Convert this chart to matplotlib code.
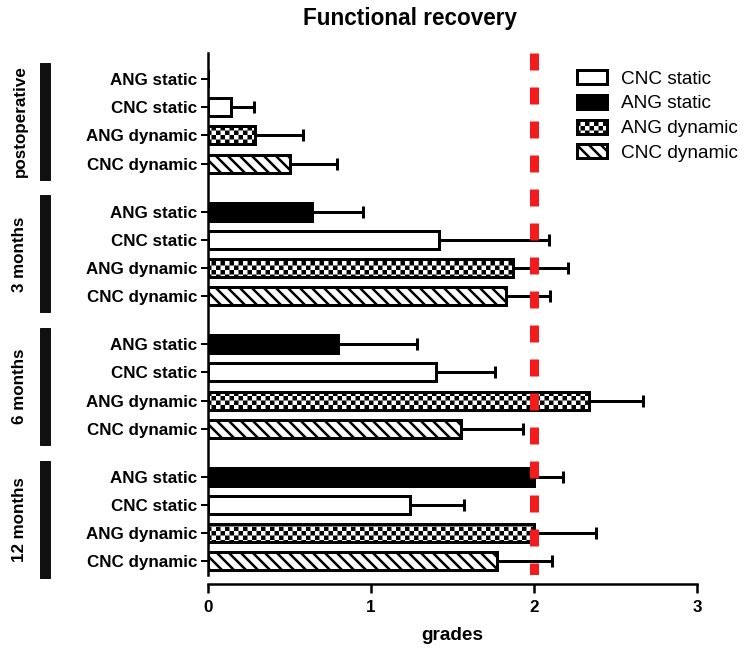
import matplotlib
matplotlib.use('Agg')
import matplotlib.pyplot as plt
import matplotlib.hatch as mhatch
import matplotlib.transforms as mtransforms
from matplotlib.patches import Rectangle
from matplotlib.path import Path
import numpy as np

# ---- data ----
groups = ['postoperative', '3 months', '6 months', '12 months']
rows = ['ANG static', 'CNC static', 'ANG dynamic', 'CNC dynamic']
legend_order = ['CNC static', 'ANG static', 'ANG dynamic', 'CNC dynamic']

ang_static = [0.00, 0.64, 0.80, 2.00]
ang_static_err = [0.00, 0.31, 0.48, 0.18]
cnc_static = [0.14, 1.42, 1.40, 1.24]
cnc_static_err = [0.14, 0.67, 0.36, 0.33]
ang_dynamic = [0.29, 1.87, 2.34, 2.00]
ang_dynamic_err = [0.29, 0.34, 0.33, 0.38]
cnc_dynamic = [0.50, 1.83, 1.55, 1.77]
cnc_dynamic_err = [0.29, 0.27, 0.38, 0.34]
threshold = 2
xticks = [0, 1, 2, 3]

plt.rcParams['font.family'] = ['Liberation Sans', 'DejaVu Sans']
plt.rcParams['font.weight'] = 'bold'
plt.rcParams['hatch.linewidth'] = 2.5
plt.rcParams['lines.scale_dashes'] = False


# checkerboard hatch (takes the place of the '*' pattern)
class Checker(mhatch.HatchPatternBase):
    def __init__(self, hatch, density):
        self.n = 16 * hatch.count('*')
        self.num_vertices = 5 * (self.n * self.n // 2)

    def set_vertices_and_codes(self, vertices, codes):
        c = 1.0 / self.n
        h = plt.rcParams['hatch.linewidth'] / 144.0  # stroke grows squares
        k = 0
        for i in range(self.n):
            for j in range(self.n):
                if (i + j) % 2:
                    continue
                x0, y0 = i * c + h, j * c + h
                x1, y1 = (i + 1) * c - h, (j + 1) * c - h
                vertices[k:k + 5] = [[x0, y0], [x1, y0], [x1, y1], [x0, y1], [x0, y0]]
                codes[k:k + 5] = [Path.MOVETO, Path.LINETO, Path.LINETO,
                                  Path.LINETO, Path.CLOSEPOLY]
                k += 5


mhatch._hatch_types = [t for t in mhatch._hatch_types if t is not mhatch.Stars] + [Checker]

series = {
    'ANG static': (ang_static, ang_static_err, 'black', None),
    'CNC static': (cnc_static, cnc_static_err, 'white', None),
    'ANG dynamic': (ang_dynamic, ang_dynamic_err, 'white', '*'),
    'CNC dynamic': (cnc_dynamic, cnc_dynamic_err, 'white', '\\\\'),
}

GSTEP = 4.7  # group spacing in row units

fig = plt.figure(figsize=(753 / 72, 650 / 72), dpi=72)
ax = fig.add_axes([208 / 753, 1 - 575 / 650, 489 / 753, 522 / 650])

ytick_pos = []
ytick_lab = []
for i, name in enumerate(rows):
    vals, errs, fc, hatch = series[name]
    ypos = [g * GSTEP + i for g in range(len(groups))]
    ax.barh(ypos, vals, height=0.64, color=fc, edgecolor='black', linewidth=3,
            hatch=hatch, label=name, zorder=2)
    ax.errorbar(vals, ypos, xerr=[np.zeros(len(vals)), errs], fmt='none',
                ecolor='black', elinewidth=3, capsize=6, capthick=3, zorder=3)
    ytick_pos += ypos
    ytick_lab += [name] * len(ypos)

ytop, ybot = -0.92, (len(groups) - 1) * GSTEP + 3 + 0.48
ax.plot([threshold, threshold], [ytop, ybot], color='#f21c1c', lw=9,
        dashes=(17, 17), solid_capstyle='butt', zorder=4)

ax.set_xlim(0, 3)
ax.set_xticks(xticks)
ax.set_ylim(ybot, ytop)
ax.set_yticks(ytick_pos)
ax.set_yticklabels(ytick_lab)

for s in ['top', 'right']:
    ax.spines[s].set_visible(False)
ax.spines['left'].set_linewidth(2.5)
ax.spines['bottom'].set_linewidth(2.5)
ax.spines['bottom'].set_position(('outward', 9))
ax.tick_params(axis='x', length=9, width=2.5, pad=7, labelsize=17)
ax.tick_params(axis='y', length=7, width=2, pad=4, labelsize=17)
ax.set_xlabel('grades', fontsize=19, fontweight='bold', labelpad=12)

# group brackets on the left
trans = mtransforms.blended_transform_factory(fig.transFigure, ax.transData)
for g, name in enumerate(groups):
    top = g * GSTEP - 0.57
    bottom = g * GSTEP + 3 + 0.57
    fig.add_artist(Rectangle((40 / 753, top), 10 / 753, bottom - top,
                             transform=trans, color='#111111', clip_on=False))
    fig.text(20 / 753, g * GSTEP + 1.5, name, transform=trans, rotation=90,
             ha='center', va='center', fontsize=17, fontweight='bold')

handles, labels = ax.get_legend_handles_labels()
order = [labels.index(n) for n in legend_order]
ax.legend([handles[k] for k in order], legend_order, loc='upper left',
          bbox_to_anchor=(577 / 753, 1 - 70 / 650), bbox_transform=fig.transFigure,
          frameon=False, prop={'size': 19, 'weight': 'normal'},
          handlelength=1.6, handleheight=0.75, handletextpad=0.7,
          labelspacing=0.38, borderpad=0, borderaxespad=0)

fig.text(410 / 753, 1 - 18 / 650, 'Functional recovery', ha='center', va='center',
         fontsize=22.5, fontweight='bold')

plt.savefig('out.png', dpi=72)
